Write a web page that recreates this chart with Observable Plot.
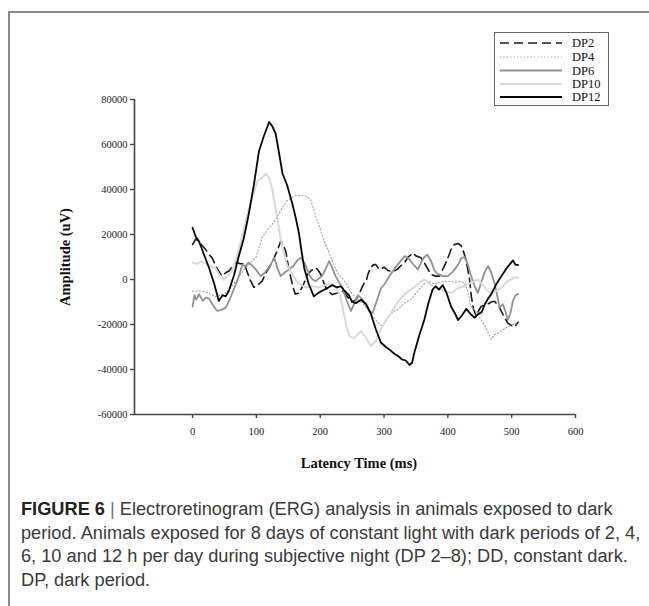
<!DOCTYPE html>
<html>
<head>
<meta charset="utf-8">
<script src="https://cdn.jsdelivr.net/npm/d3@7"></script>
<script src="https://cdn.jsdelivr.net/npm/@observablehq/plot@0.6"></script>
<style>
  html, body { margin: 0; padding: 0; background: #fff; }
  #wrap { position: relative; width: 649px; height: 606px; overflow: hidden; background: #fff; }
  #frame { position: absolute; left: 8px; top: 11px; width: 700px; height: 700px;
           border-top: 2px solid #8a8a8a; border-left: 2px solid #8a8a8a; }
  #chart { position: absolute; left: 0; top: 0; }
  #legend { position: absolute; left: 0; top: 0; }
  #caption { position: absolute; left: 21px; top: 498px; width: 630px;
             font-family: "Liberation Sans", Arial, sans-serif; font-size: 16px;
             line-height: 23.5px; color: #3a3a3a; white-space: nowrap; }
  #caption b { color: #222; }
  #caption .sep { color: #777; }
</style>
</head>
<body>
<div id="wrap">
  <div id="frame"></div>
  <div id="chart"></div>
  <svg id="legend" width="649" height="120"></svg>
  <div id="caption">
    <div class="ln"><b>FIGURE 6</b> <span class="sep">|</span> Electroretinogram (ERG) analysis in animals exposed to dark</div>
    <div class="ln">period. Animals exposed for 8 days of constant light with dark periods of 2, 4,</div>
    <div class="ln">6, 10 and 12 h per day during subjective night (DP 2–8); DD, constant dark.</div>
    <div class="ln">DP, dark period.</div>
  </div>
</div>
<script>
// ---- data (latency ms, amplitude uV) ----
const seriesNames = ["DP2", "DP4", "DP6", "DP10", "DP12"];
const xTicks = [0, 100, 200, 300, 400, 500, 600];
const yTicks = [-60000, -40000, -20000, 0, 20000, 40000, 60000, 80000];

const dp2 = [[0,15500],[5,18000],[10,17000],[15,15000],[20,13500],[26,11000],[31,9500],[38,5000],[46,1500],[52,3000],[58,4000],[64,6500],[68,7500],[75,7000],[81,7000],[86,3000],[90,0],[96,-3500],[102,-2500],[109,-700],[115,3000],[120,5200],[124,7500],[128,9700],[133,13000],[138,17000],[142,15500],[146,12500],[150,6000],[154,700],[158,-4000],[161,-6500],[167,-6000],[174,-2000],[180,2200],[186,4000],[193,5200],[197,4000],[201,2200],[205,-1000],[209,-3700],[214,-5500],[219,-6700],[227,-6000],[235,-5200],[242,-7500],[250,-10000],[256,-9000],[260,-7000],[264,-4500],[268,-2000],[272,-700],[275,2500],[279,5200],[283,6500],[287,6700],[291,5000],[295,4500],[300,5500],[306,4000],[313,3500],[321,4500],[326,6000],[332,7500],[338,10000],[345,11700],[350,10500],[358,9700],[364,7000],[370,4000],[374,2200],[381,1500],[387,1500],[392,4500],[397,7500],[402,11000],[405,13400],[410,15500],[416,16000],[421,15000],[425,12000],[429,8000],[434,0],[437,-8000],[440,-13000],[444,-16000],[448,-14000],[452,-12000],[457,-11500],[462,-11000],[468,-10000],[473,-9700],[480,-12000],[487,-16000],[494,-19400],[500,-20500],[505,-21000],[510,-19000]];

const dp4 = [[0,-5200],[10,-5000],[20,-5500],[28,-6500],[36,-7500],[44,-7000],[52,-6000],[60,-3500],[68,-700],[76,2500],[83,5200],[91,7500],[99,9700],[104,14000],[109,18700],[117,22000],[125,24600],[133,28000],[141,32000],[148,35000],[156,36600],[164,37500],[172,37300],[178,37000],[185,35500],[190,31000],[196,25500],[201,21700],[206,17000],[211,14000],[219,8200],[227,3000],[235,500],[243,-3000],[250,-6500],[258,-8500],[264,-10000],[272,-12500],[279,-15000],[287,-18000],[295,-20500],[301,-19500],[308,-16000],[316,-14000],[321,-13500],[332,-10500],[342,-9000],[353,-5000],[363,-2000],[368,-700],[378,-2000],[389,-1000],[400,-700],[410,-1200],[420,-1000],[426,-1500],[431,-5000],[436,-12000],[442,-13500],[450,-17000],[457,-20000],[462,-23000],[468,-26500],[473,-24500],[478,-24000],[485,-22500],[494,-21000],[502,-20000],[510,-19000]];

const dp6 = [[0,-12000],[3,-7000],[6,-9000],[10,-6500],[16,-9500],[21,-8000],[26,-8500],[31,-11000],[36,-13000],[39,-14000],[45,-13500],[52,-12500],[58,-9000],[65,-4000],[72,1000],[78,6500],[83,6000],[88,7500],[94,6000],[99,4500],[104,2500],[107,1500],[113,3000],[120,5500],[124,7500],[128,9700],[133,5000],[138,1500],[144,3000],[151,4500],[158,6000],[164,8500],[170,9700],[176,7000],[183,2000],[188,0],[193,-700],[198,500],[203,1500],[209,5000],[214,8200],[219,5000],[224,1500],[230,-1500],[235,-3700],[241,-9000],[248,-14000],[253,-11000],[259,-7000],[265,-8500],[271,-11000],[277,-14000],[282,-15000],[288,-10000],[295,-4000],[301,-2000],[308,1500],[316,4500],[324,7500],[332,10400],[338,9500],[345,7000],[353,4500],[358,7500],[363,10000],[368,11000],[374,8000],[379,4000],[384,2500],[392,1500],[400,1500],[408,3500],[416,6500],[421,9500],[426,10000],[431,7000],[436,2000],[442,-3000],[447,-6000],[452,-1500],[458,3500],[463,6000],[468,3000],[473,-1500],[478,-8000],[481,-12500],[486,-11000],[490,-14000],[494,-18000],[498,-15000],[502,-9500],[506,-7000],[510,-6500]];

const dp10 = [[0,7500],[8,7000],[14,8000],[20,7000],[28,6000],[36,5000],[42,2000],[49,0],[55,1500],[62,4000],[68,9000],[73,14000],[80,22000],[88,31000],[95,38000],[102,44000],[108,45000],[115,47000],[120,45000],[124,41000],[128,35000],[133,27000],[138,18000],[143,12000],[148,6500],[155,3000],[161,0],[168,-2000],[177,-3500],[186,-3000],[198,-3500],[208,-2500],[219,-2000],[226,-4000],[232,-8000],[237,-15000],[242,-22000],[247,-25500],[253,-26000],[258,-24500],[264,-23000],[272,-26000],[279,-29500],[287,-27500],[295,-22000],[303,-18000],[311,-15000],[319,-11000],[327,-8000],[337,-5500],[347,-3500],[355,-1500],[363,0],[370,-1500],[376,-3000],[385,-4000],[395,-5000],[405,-6000],[415,-4000],[426,-3000],[436,-1500],[447,0],[455,-2500],[462,-5000],[468,-6000],[476,-5000],[485,-3500],[492,-1000],[499,0],[505,1000],[510,800]];

const dp12 = [[0,23000],[5,19000],[10,17000],[18,11000],[26,5000],[34,-2000],[41,-9500],[47,-7000],[52,-7500],[57,-5000],[65,2000],[73,11000],[80,18000],[88,29000],[96,42000],[104,57000],[112,64000],[120,70000],[125,68000],[130,65000],[135,57000],[141,47000],[148,42000],[156,34000],[162,27000],[167,20000],[171,12000],[175,5000],[182,-2000],[190,-7500],[197,-6000],[203,-5000],[210,-4000],[219,-2500],[226,-3500],[232,-3000],[238,-5000],[245,-7000],[250,-10000],[256,-10500],[264,-9000],[272,-11000],[279,-15000],[287,-22000],[295,-28000],[303,-30000],[310,-31500],[316,-33000],[322,-34000],[328,-35500],[334,-36000],[340,-38000],[344,-37000],[347,-33000],[355,-25000],[363,-18000],[370,-10000],[376,-4500],[381,-3000],[386,-4500],[392,-2500],[398,-6000],[405,-12000],[411,-15000],[416,-18000],[422,-16000],[429,-13000],[436,-15500],[442,-17000],[447,-15500],[453,-14500],[458,-11000],[463,-8500],[468,-6500],[476,-2000],[484,1500],[492,5000],[502,8500],[506,6500],[510,6500]];

// ---- styles ----
const styles = {
  DP2:  {stroke: "#1a1a1a", strokeWidth: 1.6, strokeDasharray: "9,5"},
  DP4:  {stroke: "#a0a0a0", strokeWidth: 1.1, strokeDasharray: "1.2,2.2"},
  DP6:  {stroke: "#929292", strokeWidth: 1.8, strokeDasharray: null},
  DP10: {stroke: "#d9d9d9", strokeWidth: 2.0, strokeDasharray: null},
  DP12: {stroke: "#080808", strokeWidth: 1.8, strokeDasharray: null}
};
const seriesData = {DP2: dp2, DP4: dp4, DP6: dp6, DP10: dp10, DP12: dp12};

const lineMarks = seriesNames.map(name => {
  const rows = seriesData[name].map(([t, v]) => ({t, v}));
  const s = styles[name];
  const opts = {x: "t", y: "v", stroke: s.stroke, strokeWidth: s.strokeWidth, strokeLinejoin: "round"};
  if (s.strokeDasharray) opts.strokeDasharray = s.strokeDasharray;
  return Plot.line(rows, opts);
});

const axisColor = "#444";
const chart = Plot.plot({
  width: 649,
  height: 480,
  marginLeft: 134,
  marginRight: 74,
  marginTop: 99,
  marginBottom: 66,
  style: {fontFamily: "'Liberation Serif', 'Times New Roman', serif", fontSize: "10.5px", color: "#222", background: "transparent", overflow: "visible"},
  x: {domain: [-91, 600]},
  y: {domain: [-60000, 80000]},
  marks: [
    ...lineMarks,
    Plot.ruleX([-91], {stroke: axisColor, strokeWidth: 1.6}),
    Plot.ruleY([-60000], {stroke: axisColor, strokeWidth: 1.6}),
    Plot.axisX(xTicks, {tickSize: 4, tickPadding: 9, stroke: axisColor, strokeWidth: 1.4, label: null, tickFormat: d => String(d), fill: "#222"}),
    Plot.axisY(yTicks, {tickSize: 4, tickPadding: 3, stroke: axisColor, strokeWidth: 1.4, label: null, tickFormat: d => String(d), fill: "#222"})
  ]
});
document.getElementById("chart").appendChild(chart);

// axis titles
const svg = d3.select(chart);
svg.append("text")
  .attr("transform", "translate(65,257) rotate(-90)")
  .attr("text-anchor", "middle").attr("dominant-baseline", "central")
  .style("font", "bold 14.5px 'Liberation Serif', serif").attr("fill", "#111")
  .text("Amplitude (uV)");
svg.append("text")
  .attr("x", 359).attr("y", 463)
  .attr("text-anchor", "middle").attr("dominant-baseline", "central")
  .style("font", "bold 14.5px 'Liberation Serif', serif").attr("fill", "#111")
  .text("Latency Time (ms)");

// legend
const lg = d3.select("#legend");
lg.append("rect").attr("x", 494.5).attr("y", 32.5).attr("width", 114).attr("height", 73)
  .attr("fill", "#fff").attr("stroke", "#666").attr("stroke-width", 1);
const rowY = [43, 57, 70.5, 84, 97];
seriesNames.forEach((name, i) => {
  const s = styles[name];
  const ln = lg.append("line").attr("x1", 500).attr("x2", 562).attr("y1", rowY[i]).attr("y2", rowY[i])
    .attr("stroke", s.stroke).attr("stroke-width", s.strokeWidth);
  if (s.strokeDasharray) ln.attr("stroke-dasharray", s.strokeDasharray);
  lg.append("text").attr("x", 572).attr("y", rowY[i]).attr("dominant-baseline", "central")
    .style("font", "12.5px 'Liberation Serif', serif").attr("fill", "#111").text(name);
});

// fit caption font so line 2 spans ~620px
const lines = document.querySelectorAll("#caption .ln");
const probe = document.createElement("span");
probe.style.whiteSpace = "nowrap";
probe.textContent = lines[1].textContent;
lines[1].textContent = "";
lines[1].appendChild(probe);
const w = probe.getBoundingClientRect().width;
const fs = 16 * 620 / w;
document.getElementById("caption").style.fontSize = fs.toFixed(2) + "px";
</script>
</body>
</html>
